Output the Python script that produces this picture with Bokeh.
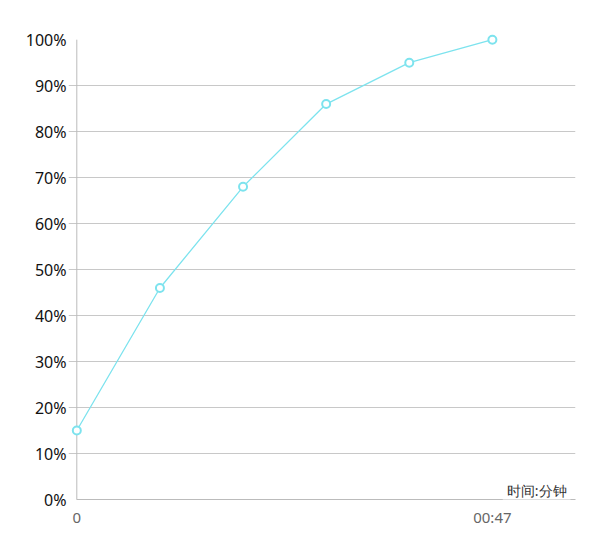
from bokeh.plotting import figure
from bokeh.models import FixedTicker, Label, Range1d, CustomJSTickFormatter
from bokeh.embed import file_html
from bokeh.resources import INLINE

# data
x_index = [0, 1, 2, 3, 4, 5]
percent = [15, 46, 68, 86, 95, 100]
x_tick_positions = [0, 5]
x_tick_labels = {0: "0", 5: "00:47"}
y_ticks = [0, 10, 20, 30, 40, 50, 60, 70, 80, 90, 100]
grid_ticks = [10, 20, 30, 40, 50, 60, 70, 80, 90]
x_title = "时间:分钟"

LINE = "#7de3ee"
AXIS = "#bbbbbb"
FONT = "Noto Sans"

p = figure(width=600, height=535, output_backend="svg", toolbar_location=None,
           x_range=Range1d(-0.1, 6), y_range=Range1d(0, 102),
           min_border_left=68, min_border_right=25, min_border_top=30, min_border_bottom=36)
p.outline_line_color = None
p.background_fill_color = "white"

# grid
p.xgrid.grid_line_color = None
p.ygrid.ticker = FixedTicker(ticks=grid_ticks)
p.ygrid.bounds = (x_index[0], 6)
p.ygrid.grid_line_color = "#c8c8c8"
p.ygrid.grid_line_width = 1

# vertical axis line drawn at x = first category (axis itself sits at frame edge)
p.segment(x0=[x_index[0]], y0=[y_ticks[0]], x1=[x_index[0]], y1=[y_ticks[-1]],
          line_color=AXIS, line_width=1)

p.line(x_index, percent, line_color=LINE, line_width=1.3)
p.scatter(x_index, percent, size=8, fill_color="white", line_color=LINE, line_width=2)

# y axis
p.yaxis.ticker = FixedTicker(ticks=y_ticks)
p.yaxis.formatter = CustomJSTickFormatter(code="return tick + '%';")
p.yaxis.major_tick_line_color = None
p.yaxis.minor_tick_line_color = None
p.yaxis.axis_line_color = None
p.yaxis.major_label_text_font = FONT
p.yaxis.major_label_text_font_size = "16px"
p.yaxis.major_label_text_color = "#111111"
p.yaxis.major_label_standoff = -4

# x axis
p.xaxis.ticker = FixedTicker(ticks=x_tick_positions)
p.xaxis.bounds = (0, 6)
p.xaxis.major_label_overrides = x_tick_labels
p.xaxis.major_tick_line_color = None
p.xaxis.minor_tick_line_color = None
p.xaxis.axis_line_color = AXIS
p.xaxis.major_label_text_font = FONT
p.xaxis.major_label_text_font_size = "15px"
p.xaxis.major_label_text_color = "#666666"
p.xaxis.major_label_standoff = 1

lab = Label(x=6, y=0, x_offset=-5, y_offset=9, text=x_title, text_align="right",
            text_baseline="middle", text_font=FONT, text_font_size="14px",
            text_color="#333333", background_fill_color="white",
            background_fill_alpha=1.0, padding=4)
p.add_layout(lab)

open("out.html", "w").write(file_html(p, INLINE))
